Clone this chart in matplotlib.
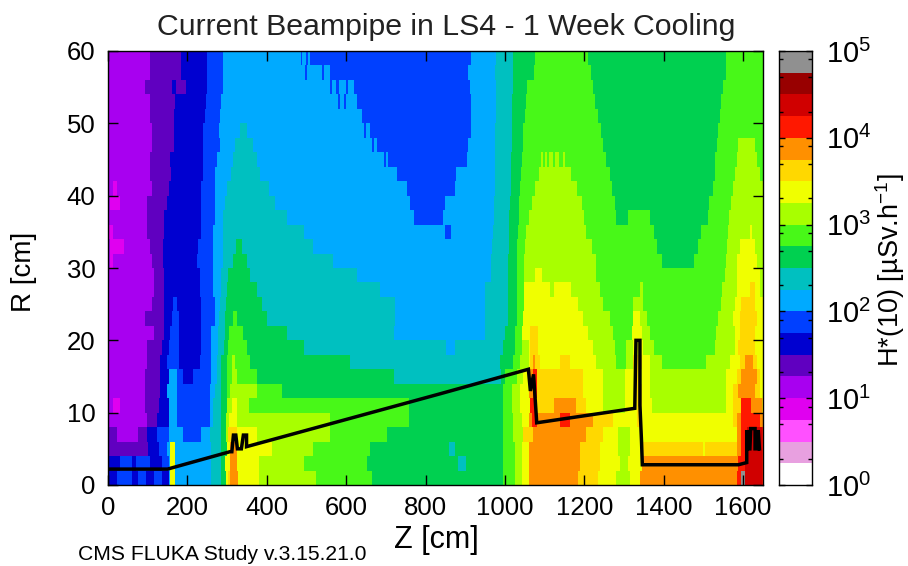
import numpy as np
import matplotlib
matplotlib.use("Agg")
from matplotlib import pyplot as plt
from matplotlib.colors import ListedColormap, BoundaryNorm

plt.rcParams["font.family"] = ["Liberation Sans", "DejaVu Sans"]
plt.rcParams["mathtext.default"] = "regular"

# colour levels of the scale, uSv/h
levels = [1, 1.78, 3.16, 5.62, 10, 17.8, 31.6, 56.2, 100, 178, 316, 562, 1000,
          1780, 3160, 5620, 10000, 17800, 31600, 56200, 100000]
colors = ["#ffffff", "#e8a0e0", "#ff50ff", "#e000f0", "#a800f0", "#6000c0", "#0000d0",
          "#0040ff", "#00aaff", "#00c0c0", "#00d050", "#48f818", "#a8ff00", "#f0ff00",
          "#ffd800", "#ff9000", "#ff1800", "#d00000", "#980000", "#909090"]

# one row per 2 cm of R, from R=0 up: where each run ends in Z, and its band
z_stops = [
    [22, 60, 75, 95, 115, 135, 152, 156, 169, 261, 286, 297, 303, 307, 328, 379, 526, 664, 996, 1025, 1042, 1059, 1185, 1235, 1281, 1315, 1341, 1584, 1596, 1605, 1647, 1650],
    [30, 60, 70, 105, 135, 152, 156, 169, 261, 286, 295, 307, 324, 379, 492, 652, 882, 903, 996, 1025, 1042, 1059, 1189, 1239, 1290, 1311, 1344, 1588, 1605, 1647, 1650],
    [101, 127, 148, 156, 169, 261, 286, 299, 307, 324, 412, 517, 660, 860, 875, 996, 1025, 1042, 1059, 1189, 1239, 1285, 1315, 1344, 1500, 1506, 1584, 1596, 1609, 1647, 1650],
    [22, 75, 97, 123, 152, 190, 236, 257, 286, 297, 303, 324, 375, 559, 702, 996, 1021, 1046, 1059, 1071, 1206, 1248, 1285, 1315, 1344, 1584, 1596, 1609, 1647, 1650],
    [97, 123, 152, 175, 257, 265, 286, 297, 306, 324, 375, 559, 757, 996, 1021, 1042, 1059, 1067, 1080, 1138, 1164, 1222, 1273, 1332, 1344, 1575, 1584, 1596, 1642, 1650],
    [13, 30, 93, 127, 152, 175, 257, 265, 286, 299, 312, 324, 354, 757, 996, 1017, 1038, 1063, 1075, 1122, 1180, 1206, 1248, 1302, 1332, 1344, 1369, 1558, 1575, 1596, 1621, 1647, 1650],
    [93, 131, 148, 175, 257, 270, 286, 299, 307, 375, 438, 996, 1017, 1038, 1059, 1071, 1080, 1197, 1248, 1302, 1332, 1344, 1365, 1558, 1575, 1588, 1630, 1642, 1650],
    [93, 131, 152, 175, 190, 215, 261, 274, 286, 299, 312, 326, 375, 719, 991, 1000, 1029, 1046, 1063, 1071, 1080, 1197, 1248, 1302, 1332, 1340, 1365, 1558, 1584, 1596, 1634, 1642, 1650],
    [97, 131, 148, 181, 232, 261, 274, 286, 299, 312, 320, 358, 610, 987, 1021, 1038, 1059, 1063, 1071, 1075, 1088, 1138, 1164, 1231, 1281, 1306, 1323, 1344, 1365, 1395, 1508, 1567, 1592, 1605, 1626, 1634, 1650],
    [97, 135, 152, 181, 236, 261, 278, 292, 303, 349, 492, 853, 874, 996, 1025, 1042, 1059, 1063, 1083, 1222, 1277, 1306, 1323, 1348, 1374, 1529, 1579, 1588, 1630, 1650],
    [114, 139, 156, 181, 236, 261, 278, 295, 306, 341, 450, 719, 949, 1000, 1025, 1042, 1063, 1083, 1210, 1273, 1319, 1344, 1365, 1533, 1579, 1592, 1630, 1650],
    [93, 139, 160, 181, 236, 270, 281, 295, 316, 324, 400, 723, 949, 1008, 1031, 1046, 1197, 1264, 1323, 1340, 1357, 1537, 1575, 1592, 1634, 1650],
    [110, 139, 163, 175, 236, 270, 282, 297, 387, 723, 949, 1008, 1031, 1048, 1185, 1248, 1323, 1348, 1546, 1579, 1596, 1630, 1650],
    [114, 139, 232, 264, 286, 299, 375, 685, 949, 1008, 1031, 1048, 1113, 1122, 1168, 1239, 1340, 1348, 1548, 1584, 1617, 1630, 1642, 1650],
    [114, 139, 232, 264, 286, 303, 358, 627, 966, 1008, 1031, 1048, 1075, 1092, 1231, 1554, 1584, 1642, 1650],
    [5, 13, 110, 138, 225, 264, 289, 314, 349, 568, 966, 1008, 1031, 1048, 1229, 1395, 1474, 1558, 1586, 1634, 1650],
    [5, 39, 106, 138, 228, 265, 291, 323, 337, 517, 968, 1009, 1031, 1050, 1221, 1382, 1487, 1560, 1592, 1630, 1650],
    [13, 97, 139, 236, 265, 289, 492, 850, 865, 970, 1010, 1033, 1053, 1206, 1374, 1495, 1562, 1617, 1622, 1650],
    [97, 139, 236, 270, 291, 450, 769, 845, 972, 1011, 1034, 1059, 1201, 1281, 1311, 1365, 1512, 1565, 1650],
    [5, 30, 97, 148, 236, 270, 295, 421, 761, 849, 972, 1012, 1035, 1067, 1196, 1277, 1516, 1571, 1650],
    [13, 22, 110, 152, 236, 270, 299, 404, 752, 874, 974, 1014, 1038, 1075, 1182, 1269, 1525, 1575, 1650],
    [106, 158, 239, 270, 309, 383, 727, 878, 975, 1015, 1040, 1084, 1168, 1265, 1529, 1580, 1642, 1650],
    [106, 156, 240, 274, 316, 375, 695, 700, 706, 711, 904, 976, 1016, 1042, 1090, 1095, 1100, 1105, 1110, 1120, 1125, 1135, 1145, 1150, 1256, 1531, 1584, 1634, 1650],
    [110, 165, 239, 282, 320, 366, 665, 670, 677, 908, 976, 1017, 1044, 1248, 1535, 1588, 1630, 1650],
    [110, 166, 239, 281, 333, 349, 645, 650, 660, 914, 976, 1017, 1046, 1242, 1537, 1650],
    [106, 166, 244, 282, 640, 914, 977, 1018, 1050, 1235, 1542, 1650],
    [106, 169, 247, 286, 580, 586, 594, 600, 627, 914, 977, 1018, 1052, 1227, 1546, 1650],
    [93, 160, 173, 198, 250, 289, 560, 566, 576, 582, 600, 605, 620, 912, 977, 1019, 1055, 1222, 1550, 1650],
    [106, 186, 250, 291, 498, 502, 540, 546, 559, 908, 976, 1019, 1072, 1218, 1557, 1650],
    [106, 186, 250, 291, 484, 488, 500, 504, 509, 914, 977, 1019, 1076, 1210, 1557, 1650],
]
bands = [
    [6, 7, 6, 7, 6, 7, 6, 8, 13, 8, 9, 10, 13, 14, 15, 13, 12, 11, 10, 11, 12, 13, 15, 14, 13, 12, 13, 15, 16, 19, 17, 16],
    [6, 7, 6, 7, 6, 7, 8, 13, 8, 9, 10, 13, 15, 13, 12, 11, 10, 9, 10, 11, 12, 13, 15, 14, 13, 12, 13, 15, 16, 17, 16],
    [5, 6, 7, 8, 13, 8, 9, 10, 13, 15, 13, 12, 11, 10, 9, 10, 11, 12, 13, 15, 14, 13, 12, 13, 14, 13, 14, 15, 16, 17, 16],
    [5, 4, 5, 6, 7, 8, 7, 8, 9, 10, 12, 14, 13, 12, 11, 10, 11, 12, 14, 14, 15, 14, 13, 12, 13, 13, 15, 16, 17, 16],
    [4, 5, 6, 8, 7, 8, 9, 10, 12, 13, 12, 12, 11, 10, 11, 12, 13, 15, 16, 15, 16, 15, 14, 13, 14, 13, 14, 15, 16, 15],
    [4, 3, 4, 5, 6, 8, 7, 8, 9, 10, 12, 13, 12, 11, 10, 11, 12, 13, 16, 14, 15, 14, 13, 12, 13, 14, 13, 12, 13, 14, 16, 15, 14],
    [4, 5, 6, 8, 7, 8, 9, 10, 11, 12, 11, 10, 11, 12, 13, 15, 16, 14, 13, 12, 13, 14, 13, 12, 13, 14, 15, 14, 13],
    [4, 5, 6, 8, 7, 6, 7, 8, 9, 10, 11, 12, 11, 10, 9, 10, 11, 12, 13, 15, 16, 14, 13, 12, 13, 14, 13, 12, 13, 14, 15, 14, 13],
    [4, 5, 6, 7, 6, 7, 8, 9, 10, 11, 12, 11, 10, 9, 10, 11, 12, 13, 14, 15, 14, 13, 14, 13, 12, 11, 12, 14, 13, 12, 11, 12, 13, 14, 15, 14, 13],
    [4, 5, 6, 7, 6, 7, 8, 9, 10, 11, 10, 9, 8, 9, 10, 11, 12, 13, 14, 13, 12, 11, 12, 13, 12, 11, 12, 13, 14, 13],
    [4, 5, 6, 7, 6, 7, 8, 9, 10, 11, 10, 9, 8, 9, 10, 11, 13, 14, 13, 12, 11, 13, 12, 11, 12, 13, 14, 13],
    [4, 5, 6, 7, 6, 7, 8, 9, 10, 11, 10, 9, 8, 9, 10, 11, 13, 12, 11, 13, 12, 11, 12, 13, 14, 13],
    [4, 5, 6, 7, 6, 7, 8, 9, 10, 9, 8, 9, 10, 11, 13, 12, 11, 12, 11, 12, 13, 14, 13],
    [4, 5, 6, 7, 8, 9, 10, 9, 8, 9, 10, 11, 13, 12, 13, 12, 11, 12, 11, 12, 13, 14, 13, 12],
    [4, 5, 6, 7, 8, 9, 10, 9, 8, 9, 10, 11, 12, 13, 12, 11, 12, 13, 12],
    [4, 3, 4, 5, 6, 7, 8, 9, 10, 9, 8, 9, 10, 11, 12, 11, 10, 11, 12, 13, 12],
    [4, 3, 4, 5, 6, 7, 8, 9, 10, 9, 8, 9, 10, 11, 12, 11, 10, 11, 12, 13, 12],
    [3, 4, 5, 6, 7, 8, 9, 8, 7, 8, 9, 10, 11, 12, 11, 10, 11, 12, 13, 12],
    [4, 5, 6, 7, 8, 9, 8, 7, 8, 9, 10, 11, 12, 11, 10, 11, 10, 11, 12],
    [4, 3, 4, 5, 6, 7, 8, 9, 8, 7, 8, 9, 10, 11, 12, 11, 10, 11, 12],
    [4, 3, 4, 5, 6, 7, 8, 9, 8, 7, 8, 9, 10, 11, 12, 11, 10, 11, 12],
    [4, 5, 6, 7, 8, 9, 8, 7, 8, 9, 10, 11, 12, 11, 10, 11, 12, 11],
    [4, 5, 6, 7, 8, 9, 8, 7, 8, 7, 7, 8, 9, 10, 11, 12, 11, 12, 11, 12, 11, 12, 11, 12, 11, 10, 11, 12, 11],
    [4, 5, 6, 7, 8, 9, 8, 7, 8, 7, 8, 9, 10, 11, 10, 11, 12, 11],
    [4, 5, 6, 7, 8, 9, 8, 7, 8, 7, 8, 9, 10, 11, 10, 11],
    [4, 5, 6, 7, 8, 7, 8, 9, 10, 11, 10, 11],
    [4, 5, 6, 7, 8, 7, 8, 7, 8, 7, 8, 9, 10, 11, 10, 11],
    [4, 5, 6, 5, 6, 7, 8, 7, 8, 7, 8, 7, 8, 7, 8, 9, 10, 11, 10, 11],
    [4, 5, 6, 7, 8, 7, 8, 7, 8, 7, 8, 9, 10, 11, 10, 11],
    [4, 5, 6, 7, 8, 7, 8, 7, 8, 7, 8, 9, 10, 11, 10, 11],
]

# beampipe outline
pipe_z = [0, 150, 307, 312, 316, 322, 326, 336, 341, 349, 349, 836, 1059, 1064, 1072, 1080, 1327, 1330, 1340, 1340, 1344, 1346,
          1588, 1609, 1609, 1611, 1617, 1619, 1630, 1630, 1638, 1638, 1641]
pipe_r = [2.2, 2.2, 4.6, 4.6, 6.9, 6.9, 5, 5, 6.9, 6.9, 5.3, 12.6, 16, 13, 15.3, 8.6, 10.6, 20, 20, 11, 6, 2.8,
          2.8, 3.1, 7.6, 5, 5, 7.8, 7.8, 5, 5, 7.6, 5]

z_ticks = [0, 200, 400, 600, 800, 1000, 1200, 1400, 1600]
r_ticks = [0, 10, 20, 30, 40, 50, 60]
scale_ticks = [1, 10, 100, 1000, 10000, 100000]
scale_labels = ["$10^{0}$", "$10^{1}$", "$10^{2}$", "$10^{3}$", "$10^{4}$", "$10^{5}$"]
scale_minor = [2, 5, 8, 20, 50, 80, 200, 500, 800, 2000, 5000, 8000, 20000, 50000, 80000]

cmap = ListedColormap(colors)
norm = BoundaryNorm(levels, cmap.N)

z_edges = np.arange(0, 1652.5, 2.5)
r_edges = np.arange(0, 62, 2)
z_mid = (z_edges[:-1] + z_edges[1:]) / 2

dose = np.zeros((len(r_edges) - 1, len(z_mid)))
for j in range(len(z_stops)):
    idx = np.searchsorted(z_stops[j], z_mid)
    idx = np.minimum(idx, len(bands[j]) - 1)
    dose[j] = np.array(levels)[np.array(bands[j])[idx]] * 1.3

fig = plt.figure(figsize=(9.08, 5.66), dpi=100)
W, H = 908.0, 566.0
ax = fig.add_axes([108 / W, 1 - 485 / H, 655 / W, 434 / H])
cax = fig.add_axes([779 / W, 1 - 485 / H, 33.5 / W, 434 / H])

ax.pcolormesh(z_edges, r_edges, dose, cmap=cmap, norm=norm, antialiased=False)
ax.plot(pipe_z, pipe_r, color="black", lw=2.5, solid_joinstyle="miter")

ax.set_xlim(0, 1650)
ax.set_ylim(0, 60)
ax.set_xticks(z_ticks)
ax.set_yticks(r_ticks)
ax.tick_params(direction="in", top=True, right=True, length=7.5, width=1.0, labelsize=18.5)
ax.tick_params(axis="x", pad=8)
ax.tick_params(axis="y", pad=9)
for s in ax.spines.values():
    s.set_linewidth(1.0)

fig.text(446 / W, 1 - 27 / H, "Current Beampipe in LS4 - 1 Week Cooling", fontsize=21.8, ha="center", va="center", color="#222222")
fig.text(436 / W, 1 - 540 / H, "Z [cm]", fontsize=22, ha="center", va="center")
fig.text(24 / W, 1 - 272 / H, "R [cm]", fontsize=20, rotation=90, ha="center", va="center")
fig.text(78 / W, 1 - 554 / H, "CMS FLUKA Study v.3.15.21.0", fontsize=15.2, ha="left", va="center")

cax.pcolormesh([0, 1], levels, np.array(levels[:-1]).reshape(-1, 1) * 1.3, cmap=cmap, norm=norm)
cax.set_yscale("log")
cax.set_ylim(1, 100000)
cax.set_xticks([])
cax.yaxis.tick_right()
cax.set_yticks(scale_ticks)
cax.set_yticklabels(scale_labels)
cax.set_yticks(scale_minor, minor=True)
cax.set_yticklabels([""] * len(scale_minor), minor=True)
cax.tick_params(axis="y", which="major", direction="in", left=True, right=True, length=4.5, width=1.0, labelsize=21, pad=10)
cax.tick_params(axis="y", which="minor", direction="in", left=True, right=True, length=3, width=1.0)
for s in cax.spines.values():
    s.set_linewidth(1.0)
fig.text(890 / W, 1 - 270 / H, "H*(10) [µSv.h$^{-1}$]", fontsize=19.5, rotation=90, ha="center", va="center")

fig.savefig("out.png", dpi=100)
